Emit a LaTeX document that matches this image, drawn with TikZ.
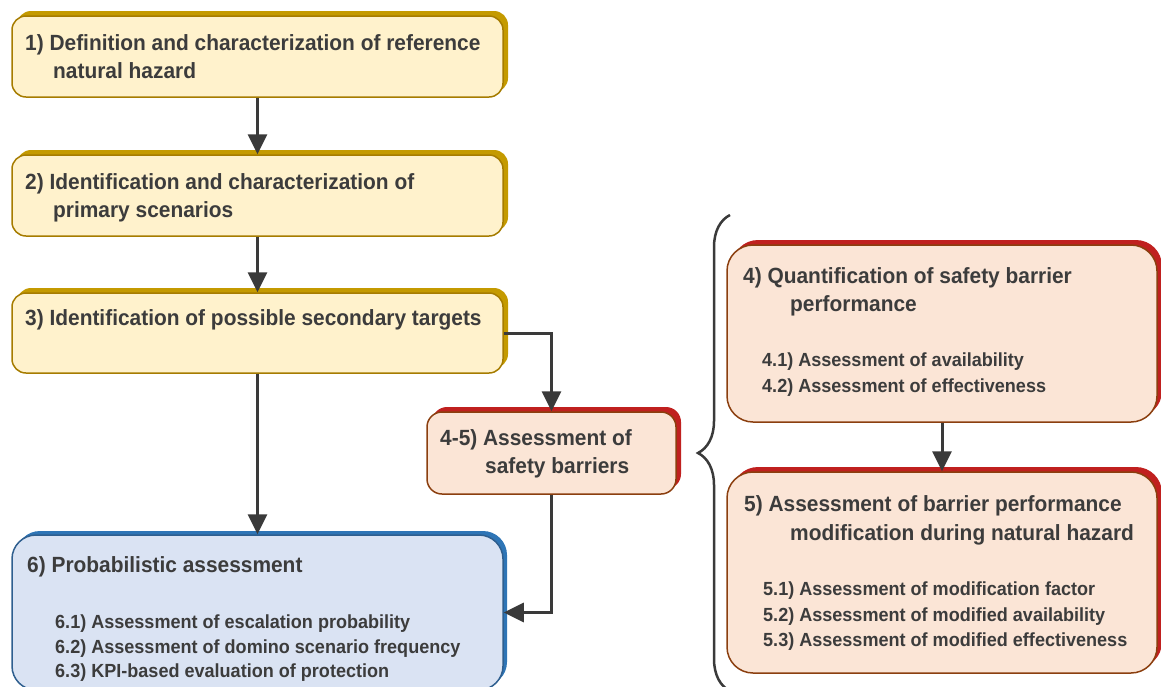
\documentclass[tikz,border=0pt]{standalone}
\usepackage{fontspec}
\setmainfont{Liberation Sans}[FakeStretch=0.95]
\usetikzlibrary{arrows.meta,shadows,decorations.pathreplacing}
\definecolor{ylfill}{HTML}{FFF2CC}
\definecolor{ylline}{HTML}{A67C00}
\definecolor{ylshad}{HTML}{C49A00}
\definecolor{pkfill}{HTML}{FBE5D6}
\definecolor{pkline}{HTML}{8B3F0F}
\definecolor{pkshad}{HTML}{C0201F}
\definecolor{blfill}{HTML}{DAE3F3}
\definecolor{blline}{HTML}{2F5F8F}
\definecolor{blshad}{HTML}{2E75B6}
\definecolor{txt}{HTML}{3C3C3C}
\definecolor{arr}{HTML}{3A3A3A}
\tikzset{
  boxbase/.style={rectangle, inner sep=0pt, line width=1.5pt},
  ylbox/.style={boxbase, rounded corners=14pt, fill=ylfill, draw=ylline,
    general shadow={shadow xshift=5pt, shadow yshift=5pt, fill=ylshad}},
  pkbox/.style={boxbase, rounded corners=#1, fill=pkfill, draw=pkline,
    general shadow={shadow xshift=5pt, shadow yshift=5pt, fill=pkshad}},
  blbox/.style={boxbase, rounded corners=24pt, fill=blfill, draw=blline,
    general shadow={shadow xshift=4pt, shadow yshift=4pt, fill=blshad}},
  ttl/.style={anchor=base west, inner sep=0pt, text=txt,
    font=\fontsize{22}{26}\selectfont\bfseries},
  sub/.style={anchor=base west, inner sep=0pt, text=txt,
    font=\fontsize{19}{22}\selectfont\bfseries},
  conn/.style={draw=arr, line width=3pt,
    -{Triangle[length=20pt,width=19pt]}},
  bracestyle/.style={draw=arr, line width=2.5pt,
    decorate, decoration={brace, amplitude=32pt}}
}
\begin{document}
\begin{tikzpicture}[x=1pt,y=-1pt]
\useasboundingbox (0,0) rectangle (1161,686);
% boxes
\node[ylbox, minimum width=491pt, minimum height=81pt] (b1) at (257.5,56.5) {};
\node[ylbox, minimum width=491pt, minimum height=81pt] (b2) at (257.5,195.5) {};
\node[ylbox, minimum width=491pt, minimum height=80pt] (b3) at (257.5,333) {};
\node[pkbox=15pt, minimum width=249pt, minimum height=82pt] (b45) at (551.5,453) {};
\node[pkbox=26pt, minimum width=430pt, minimum height=177pt] (b4) at (942,333.5) {};
\node[pkbox=26pt, minimum width=430pt, minimum height=201pt] (b5) at (942,572.5) {};
\node[blbox, minimum width=491pt, minimum height=155pt] (b6) at (257.5,612.5) {};
% texts
\node[ttl] (t1a) at (25,50) {1) Definition and characterization of reference};
\node[ttl] (t1b) at (53,78) {natural hazard};
\node[ttl] (t2a) at (25,189) {2) Identification and characterization of};
\node[ttl] (t2b) at (53,217) {primary scenarios};
\node[ttl] (t3a) at (25,325) {3) Identification of possible secondary targets};
\node[ttl] (t45a) at (440,445) {4-5) Assessment of};
\node[ttl] (t45b) at (485,473) {safety barriers};
\node[ttl] (t4a) at (743,283) {4) Quantification of safety barrier};
\node[ttl] (t4b) at (790,311) {performance};
\node[sub] (t41) at (762,366) {4.1) Assessment of availability};
\node[sub] (t42) at (762,392) {4.2) Assessment of effectiveness};
\node[ttl] (t5a) at (744,511) {5) Assessment of barrier performance};
\node[ttl] (t5b) at (790,540) {modification during natural hazard};
\node[sub] (t51) at (763,595) {5.1) Assessment of modification factor};
\node[sub] (t52) at (763,621) {5.2) Assessment of modified availability};
\node[sub] (t53) at (763,646) {5.3) Assessment of modified effectiveness};
\node[ttl] (t6a) at (27,572) {6) Probabilistic assessment};
\node[sub] (t61) at (55,628) {6.1) Assessment of escalation probability};
\node[sub] (t62) at (55,653) {6.2) Assessment of domino scenario frequency};
\node[sub] (t63) at (55,677) {6.3) KPI-based evaluation of protection};
% connectors
\draw[conn] (b1.south) -- (b2.north);
\draw[conn] (b2.south) -- (b3.north);
\draw[conn] (b3.south) -- (b6.north);
\draw[conn] (b3.east) -| (b45.north);
\draw[conn] (b45.south) |- (b6.east);
\draw[conn] (b4.south) -- (b5.north);
% brace
\coordinate (bb) at (730,691);
\coordinate (bt) at (730,215);
\draw[bracestyle] (bb) -- (bt);
\end{tikzpicture}
\end{document}
